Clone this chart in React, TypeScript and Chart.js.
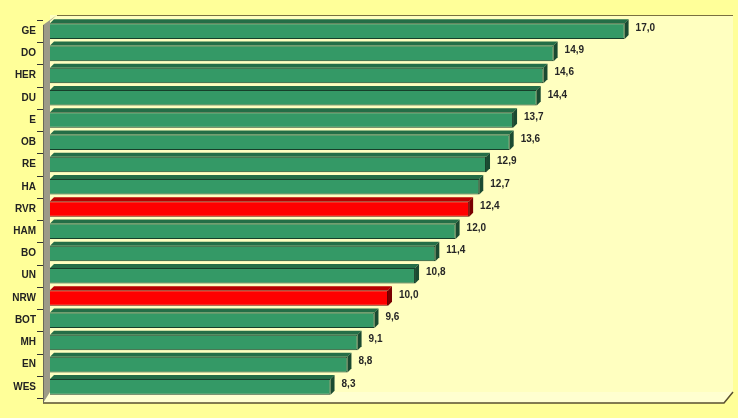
import React, { useEffect, useRef } from "react";
import { Chart, registerables } from "chart.js";

Chart.register(...registerables);

const categories = ["GE", "DO", "HER", "DU", "E", "OB", "RE", "HA", "RVR", "HAM", "BO", "UN", "NRW", "BOT", "MH", "EN", "WES"];
const values = [17.0, 14.9, 14.6, 14.4, 13.7, 13.6, 12.9, 12.7, 12.4, 12.0, 11.4, 10.8, 10.0, 9.6, 9.1, 8.8, 8.3];
const highlighted = ["RVR", "NRW"];
const axisMin = 0;
const axisMax = 20;

const OUTER_BG = "#FFFF99";
const PLOT_BG = "#FFFFC0";
const GREEN = { front: "#349966", top: "#246E47", side: "#1A4A31", border: "#173F2A" };
const RED = { front: "#FF0000", top: "#B80000", side: "#7A0000", border: "#6A0000" };
const FONT = "'Liberation Sans', Arial, sans-serif";

const decoPlugin = {
  id: "deco3d",
  beforeDraw(chart: any) {
    const { ctx, chartArea } = chart;
    const { left, top, bottom } = chartArea;
    const right = chartArea.right + 7;
    ctx.save();
    ctx.fillStyle = OUTER_BG;
    ctx.fillRect(0, 0, chart.width, chart.height);
    const backTop = top - 5;
    const backBottom = bottom - 6;
    const frontLeft = left - 7;
    const frontBottom = bottom + 5;
    // back plane
    ctx.fillStyle = PLOT_BG;
    ctx.fillRect(left, backTop, right - left, backBottom - backTop);
    ctx.strokeStyle = "#7A7040";
    ctx.lineWidth = 1.2;
    ctx.beginPath();
    ctx.moveTo(left + 7, backTop + 0.5);
    ctx.lineTo(right, backTop + 0.5);
    ctx.moveTo(left, backBottom + 0.5);
    ctx.lineTo(right, backBottom + 0.5);
    ctx.stroke();
    // floor
    ctx.fillStyle = "#FFFFD0";
    ctx.beginPath();
    ctx.moveTo(frontLeft, frontBottom);
    ctx.lineTo(left, backBottom);
    ctx.lineTo(right, backBottom);
    ctx.lineTo(right - 9, frontBottom);
    ctx.closePath();
    ctx.fill();
    ctx.strokeStyle = "#5A5030";
    ctx.lineWidth = 1.5;
    ctx.beginPath();
    ctx.moveTo(frontLeft, frontBottom);
    ctx.lineTo(right - 9, frontBottom);
    ctx.lineTo(right, backBottom);
    ctx.stroke();
    // left wall
    ctx.fillStyle = "#9C9A88";
    ctx.beginPath();
    ctx.moveTo(frontLeft, top + 5);
    ctx.lineTo(left + 7, backTop);
    ctx.lineTo(left, backTop + 6);
    ctx.lineTo(left, backBottom);
    ctx.lineTo(frontLeft, frontBottom);
    ctx.closePath();
    ctx.fill();
    ctx.strokeStyle = "#6A6858";
    ctx.lineWidth = 1;
    ctx.beginPath();
    ctx.moveTo(frontLeft + 0.5, top + 5);
    ctx.lineTo(frontLeft + 0.5, frontBottom);
    ctx.stroke();
    // category boundary ticks
    const yScale = chart.scales.y;
    const n = categories.length;
    const step = n > 1 ? yScale.getPixelForValue(1) - yScale.getPixelForValue(0) : 0;
    ctx.strokeStyle = "#333";
    ctx.lineWidth = 1;
    ctx.beginPath();
    for (let i = 0; i <= n; i++) {
      const y = Math.round(yScale.getPixelForValue(0) - step / 2 + i * step) + 0.5;
      ctx.moveTo(frontLeft - 6, y);
      ctx.lineTo(frontLeft, y);
    }
    ctx.stroke();
    ctx.restore();
  },
  afterDatasetsDraw(chart: any) {
    const { ctx } = chart;
    const meta = chart.getDatasetMeta(0);
    const d = 4;
    ctx.save();
    meta.data.forEach((bar: any, i: number) => {
      const c = highlighted.includes(categories[i]) ? RED : GREEN;
      const { x, y, base, height } = bar.getProps(["x", "y", "base", "height"], true);
      const t = y - height / 2;
      const b = y + height / 2;
      // top face
      ctx.fillStyle = c.top;
      ctx.beginPath();
      ctx.moveTo(base, t);
      ctx.lineTo(base + d, t - d);
      ctx.lineTo(x + d, t - d);
      ctx.lineTo(x, t);
      ctx.closePath();
      ctx.fill();
      // side face
      ctx.fillStyle = c.side;
      ctx.beginPath();
      ctx.moveTo(x, t);
      ctx.lineTo(x + d, t - d);
      ctx.lineTo(x + d, b - d);
      ctx.lineTo(x, b);
      ctx.closePath();
      ctx.fill();
      // label
      ctx.fillStyle = "#262626";
      ctx.font = `bold 10px ${FONT}`;
      ctx.textAlign = "left";
      ctx.textBaseline = "middle";
      ctx.fillText(values[i].toFixed(1).replace(".", ","), x + d + 7, y - 3);
    });
    ctx.restore();
  },
};

export default function App() {
  const ref = useRef<HTMLCanvasElement>(null);
  useEffect(() => {
    if (!ref.current) return;
    const chart = new Chart(ref.current, {
      type: "bar",
      data: {
        labels: categories,
        datasets: [
          {
            data: values,
            backgroundColor: categories.map((c) => (highlighted.includes(c) ? RED.front : GREEN.front)),
            borderColor: categories.map((c) => (highlighted.includes(c) ? RED.border : GREEN.border)),
            borderWidth: 1,
            barPercentage: 0.7,
            categoryPercentage: 1,
          },
        ],
      },
      options: {
        indexAxis: "y",
        animation: false,
        responsive: false,
        maintainAspectRatio: false,
        layout: { padding: { top: 13, right: 12, bottom: 7, left: 0 } },
        plugins: { legend: { display: false }, tooltip: { enabled: false } },
        scales: {
          x: { display: false, min: axisMin, max: axisMax },
          y: {
            afterFit: (scale: any) => {
              scale.width = 50;
            },
            grid: { display: false, drawTicks: false, tickLength: 0 },
            border: { display: false },
            ticks: {
              padding: 14,
              color: "#222",
              font: { family: FONT, size: 10, weight: "bold" },
            },
          },
        },
      },
      plugins: [decoPlugin],
    });
    return () => chart.destroy();
  }, []);
  return (
    <div style={{ position: "fixed", left: 0, top: 0, width: 738, height: 418 }}>
      <canvas ref={ref} width={738} height={418} />
    </div>
  );
}
